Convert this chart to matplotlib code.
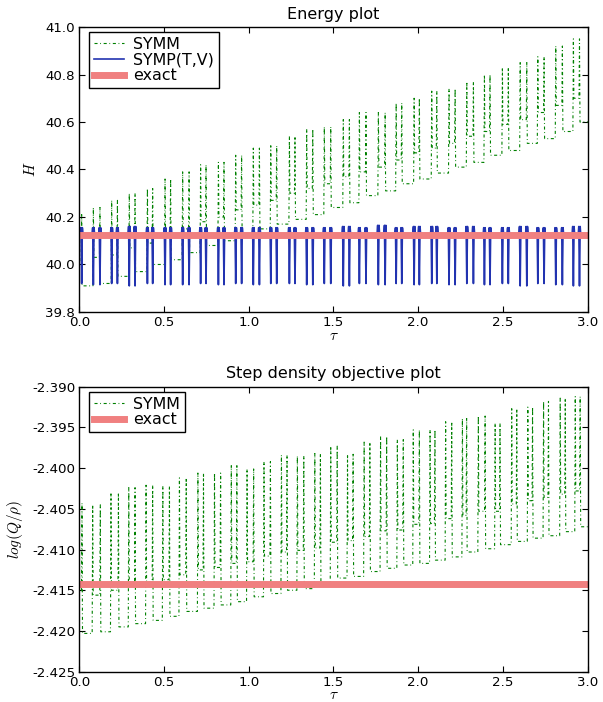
import matplotlib
matplotlib.use("Agg")
import matplotlib.pyplot as plt

plt.rcParams['font.family'] = ['DejaVu Sans']
plt.rcParams['mathtext.fontset'] = 'cm'
plt.rcParams['lines.scale_dashes'] = False

# ---- Energy plot data (one entry per oscillation) ----
top_left = [-0.021, 0.083, 0.191, 0.295, 0.402, 0.506, 0.610, 0.716, 0.821, 0.923,
            1.027, 1.130, 1.240, 1.342, 1.446, 1.558, 1.653, 1.765, 1.870, 1.976,
            2.080, 2.182, 2.287, 2.391, 2.497, 2.602, 2.706, 2.812, 2.916]
top_right = [0.014, 0.122, 0.225, 0.329, 0.433, 0.539, 0.648, 0.748, 0.854, 0.958,
             1.063, 1.165, 1.273, 1.378, 1.484, 1.594, 1.692, 1.805, 1.903, 2.007,
             2.110, 2.218, 2.326, 2.424, 2.532, 2.641, 2.743, 2.851, 2.952]
symm_hi = [40.21, 40.24, 40.27, 40.30, 40.32, 40.36, 40.39, 40.42, 40.43, 40.46,
           40.49, 40.50, 40.54, 40.57, 40.58, 40.61, 40.64, 40.64, 40.68, 40.70,
           40.73, 40.74, 40.77, 40.80, 40.83, 40.85, 40.875, 40.92, 40.95]
symm_mid = [40.01, 40.03, 40.04, 40.07, 40.09, 40.13, 40.15, 40.18, 40.20, 40.23,
            40.25, 40.27, 40.30, 40.32, 40.34, 40.37, 40.39, 40.41, 40.44, 40.47,
            40.49, 40.51, 40.54, 40.56, 40.59, 40.61, 40.64, 40.67, 40.70]
symm_lo = [39.91, 39.92, 39.95, 39.97, 40.00, 40.02, 40.05, 40.08, 40.10, 40.12,
           40.15, 40.17, 40.19, 40.21, 40.24, 40.26, 40.29, 40.31, 40.34, 40.36,
           40.385, 40.41, 40.43, 40.46, 40.48, 40.51, 40.53, 40.56, 40.60]
symp_low = [39.92, 39.915, 39.92, 39.91, 39.92, 39.915, 39.915, 39.92, 39.915, 39.92,
            39.915, 39.92, 39.92, 39.915, 39.92, 39.91, 39.92, 39.915, 39.92, 39.915,
            39.92, 39.915, 39.92, 39.915, 39.92, 39.91, 39.92, 39.915, 39.91]
symp_top = [40.155, 40.155, 40.155, 40.16, 40.155, 40.155, 40.155, 40.155, 40.155, 40.155,
            40.155, 40.155, 40.155, 40.155, 40.155, 40.16, 40.155, 40.165, 40.155, 40.16,
            40.16, 40.155, 40.16, 40.155, 40.155, 40.16, 40.155, 40.155, 40.16]
symp_base = 40.128
energy_exact = 40.124

# ---- Step density objective data ----
bot_left = [-0.020, 0.079, 0.187, 0.292, 0.394, 0.493, 0.591, 0.700, 0.798, 0.897,
            0.990, 1.090, 1.193, 1.287, 1.390, 1.484, 1.583, 1.681, 1.778, 1.877,
            1.971, 2.070, 2.162, 2.261, 2.355, 2.454, 2.552, 2.647, 2.740, 2.838, 2.927]
bot_right = [0.016, 0.124, 0.231, 0.329, 0.433, 0.532, 0.631, 0.733, 0.834, 0.930,
             1.029, 1.128, 1.226, 1.325, 1.423, 1.522, 1.616, 1.715, 1.814, 1.912,
             2.007, 2.099, 2.198, 2.286, 2.395, 2.483, 2.582, 2.675, 2.769, 2.868, 2.956]
obj_hi = [-2.4043, -2.4045, -2.4030, -2.4024, -2.4021, -2.4022, -2.4012, -2.4006, -2.4006, -2.3997,
          -2.4001, -2.3992, -2.3984, -2.3985, -2.3982, -2.3973, -2.3983, -2.3968, -2.3961, -2.3965,
          -2.3953, -2.3953, -2.3943, -2.3939, -2.3936, -2.3945, -2.3927, -2.3925, -2.3918, -2.3914, -2.3912]
obj_mid = [-2.4152, -2.4156, -2.4150, -2.4144, -2.4140, -2.4137, -2.4131, -2.4125, -2.4122, -2.4117,
           -2.4115, -2.4108, -2.4103, -2.4101, -2.4098, -2.4091, -2.4089, -2.4084, -2.4077, -2.4076,
           -2.4069, -2.4068, -2.4062, -2.4058, -2.4053, -2.4053, -2.4044, -2.4040, -2.4036, -2.4032, -2.4028]
obj_lo = [-2.4203, -2.4201, -2.4195, -2.4191, -2.4187, -2.4182, -2.4176, -2.4172, -2.4168, -2.4164,
          -2.4158, -2.4154, -2.4150, -2.4148, -2.4141, -2.4135, -2.4133, -2.4127, -2.4123, -2.4119,
          -2.4117, -2.4113, -2.4109, -2.4103, -2.4099, -2.4094, -2.4090, -2.4086, -2.4083, -2.4078, -2.4072]
obj_exact = -2.4142


def symm_curve(left, right, hi, mid, lo):
    # two near-vertical strokes per oscillation, flat low part in between
    t, v = [], []
    prev = mid[0]
    for k in range(len(left)):
        t += [left[k] - 0.003, left[k], left[k] + 0.003, right[k] - 0.003, right[k], right[k] + 0.003]
        v += [prev, hi[k], mid[k], mid[k], hi[k], lo[k]]
        prev = lo[k]
    t.append(3.05)
    v.append(lo[-1])
    return t, v


def symp_curve(left, right, low, top, base):
    t, v = [], []
    for k in range(len(left)):
        for s in (left[k], right[k]):
            t += [s - 0.007, s - 0.004, s, s + 0.004, s + 0.007]
            v += [base, top[k], low[k], top[k], base]
    t.append(3.05)
    v.append(base)
    return t, v


def style_axes(ax):
    ax.tick_params(direction='in', top=True, right=True, length=4, labelsize=9.6, pad=3)
    for sp in ax.spines.values():
        sp.set_linewidth(1.0)
    ax.set_xlim(0, 3.0)
    ax.set_xticks([0.0, 0.5, 1.0, 1.5, 2.0, 2.5, 3.0])
    ax.set_xlabel(r'$\tau$', fontsize=11, labelpad=-1)


fig = plt.figure(figsize=(6.03, 7.02), dpi=100)
ax1 = fig.add_axes([0.1315, 0.5556, 0.843, 0.4059])
ax2 = fig.add_axes([0.1315, 0.0432, 0.843, 0.4059])

symm_dash = (0, (2.2, 1.9, 0.6, 1.9))
symm_green = 'g'

t, v = symm_curve(top_left, top_right, symm_hi, symm_mid, symm_lo)
ax1.plot(t, v, color=symm_green, linestyle=symm_dash, lw=0.8, label='SYMM')
t, v = symp_curve(top_left, top_right, symp_low, symp_top, symp_base)
ax1.plot(t, v, color='#2233b0', lw=1.2, label='SYMP(T,V)')
ax1.axhline(energy_exact, color='#f08080', lw=5, label='exact')
ax1.set_ylim(39.8, 41.0)
ax1.set_yticks([39.8, 40.0, 40.2, 40.4, 40.6, 40.8, 41.0])
ax1.set_ylabel(r'$H$', fontsize=11, labelpad=5)
ax1.set_title('Energy plot', fontsize=11.5)
style_axes(ax1)

t, v = symm_curve(bot_left, bot_right, obj_hi, obj_mid, obj_lo)
ax2.plot(t, v, color=symm_green, linestyle=symm_dash, lw=0.8, label='SYMM')
ax2.axhline(obj_exact, color='#f08080', lw=5, label='exact')
ax2.set_ylim(-2.425, -2.390)
ax2.set_yticks([-2.425, -2.420, -2.415, -2.410, -2.405, -2.400, -2.395, -2.390])
ax2.set_yticklabels(['%.3f' % y for y in ax2.get_yticks()])
ax2.set_ylabel(r'$log(Q/\rho)$', fontsize=11, labelpad=5)
ax2.set_title('Step density objective plot', fontsize=11.5)
style_axes(ax2)

for ax in (ax1, ax2):
    leg = ax.legend(loc='upper left', bbox_to_anchor=(0.019, 0.982), borderaxespad=0,
                    fontsize=11.4, fancybox=False, framealpha=1, edgecolor='black',
                    borderpad=0.3, labelspacing=0.05, handlelength=1.9,
                    handletextpad=0.6)
    leg.get_frame().set_linewidth(1.0)

fig.savefig('out.png', dpi=100)
